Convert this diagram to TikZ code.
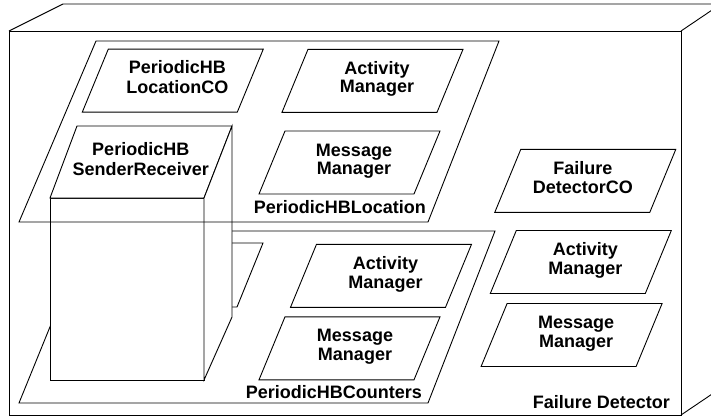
\documentclass[tikz,border=0pt]{standalone}
\usepackage{fontspec}
\setmainfont{Liberation Sans}
\tikzset{
  shapeline/.style={draw=black, line width=0.9pt, fill=white, line join=miter},
  outline/.style={draw=black, line width=0.9pt},
  boxtext/.style={font=\fontsize{18}{18.5}\selectfont\bfseries, align=center, inner sep=0pt},
  lbl/.style={font=\fontsize{18}{18.5}\selectfont\bfseries, inner sep=0pt, anchor=base east}
}
\newcommand\plg[5][4.5]{%
  \draw[shapeline] (#3-64.5,#4-31.5) coordinate (#2-nw) -- (#3+90.5,#4-31.5) coordinate (#2-ne)
    -- (#3+64.5,#4+31.5) coordinate (#2-se) -- (#3-90.5,#4+31.5) coordinate (#2-sw) -- cycle;
  \node[boxtext] (#2) at (#3+#1,#4-0.8) {\strut #5\strut};}
\begin{document}
\begin{tikzpicture}[x=1pt,y=-1pt]
\useasboundingbox (0,0) rectangle (711,418);
\begin{scope}
\clip (0,0) rectangle (711,418);
% outer 3D node
\coordinate (fnw) at (9,31);
\coordinate (fne) at (681,31);
\coordinate (fse) at (681,415);
\coordinate (fsw) at (9,415);
\coordinate (bnw) at (63,4);
\coordinate (bne) at (721,4);
\coordinate (bse) at (721,388);
\draw[outline] (fnw) rectangle (fse);
\draw[outline] (fnw) -- (bnw) -- (bne);
\draw[outline] (fne) -- (bne);
\draw[outline] (fse) -- (bse);
\end{scope}
% PeriodicHBCounters package
\draw[shapeline] (89,231) coordinate (cnw) -- (495,231) coordinate (cne) -- (428,403) coordinate (cse) -- (19,403) coordinate (csw) -- cycle;
% hidden box behind the cube
\draw[shapeline] (108,243) coordinate (hnw) -- (263,243) coordinate (hne) -- (237,307) coordinate (hse) -- (82,307) coordinate (hsw) -- cycle;
\plg{am2}{381}{275.8}{Activity\\Manager}
\plg[5.5]{mm2}{349.5}{348.3}{Message\\Manager}
% cube
\coordinate (kfnw) at (50,198);
\coordinate (kfne) at (204,198);
\coordinate (kfse) at (204,380);
\coordinate (kfsw) at (50,380);
\coordinate (kbnw) at (77,126);
\coordinate (kbne) at (232,126);
\coordinate (kbse) at (232,317);
\draw[shapeline] (kfnw) rectangle (kfse);
\draw[shapeline] (kfnw) -- (kbnw) -- (kbne) -- (kfne) -- cycle;
\draw[shapeline] (kfne) -- (kbne) -- (kbse) -- (kfse) -- cycle;
\node[boxtext] (sr) at (140.75,161.5) {\strut PeriodicHB\\SenderReceiver\strut};
% PeriodicHBLocation package (outline only)
\draw[outline] (96,41) coordinate (lnw) -- (499,41) coordinate (lne) -- (428,222) coordinate (lse) -- (19,222) coordinate (lsw) -- cycle;
\plg{lco}{172.8}{80.6}{PeriodicHB\\LocationCO}
\plg{am1}{372.5}{80.8}{Activity\\Manager}
\plg{mm1}{349.5}{162.5}{Message\\Manager}
\plg[-2.5]{fdco}{585.3}{180.8}{Failure\\DetectorCO}
\plg{am3}{580.8}{262}{Activity\\Manager}
\plg{mm3}{571.6}{335}{Message\\Manager}
% labels
\node[lbl] (lloc) at (426,213) {PeriodicHBLocation};
\node[lbl] (lcnt) at (422,398.5) {PeriodicHBCounters};
\node[lbl] (lfd) at (670,408) {Failure Detector};
\end{tikzpicture}
\end{document}
